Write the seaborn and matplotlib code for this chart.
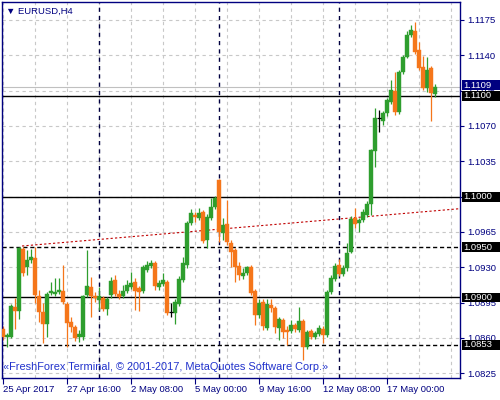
import numpy as np
import pandas as pd
import matplotlib
matplotlib.use("Agg")
import matplotlib.pyplot as plt
import matplotlib.transforms as mtransforms
from matplotlib.patches import Rectangle
import seaborn as sns

# EURUSD H4 candles, 25 Apr 2017 00:00 -> 19 May 2017 00:00
opens = [1.0869, 1.0861, 1.0861, 1.0891, 1.0887, 1.0948, 1.0930, 1.0937, 1.0939, 1.0901,
         1.0886, 1.0874, 1.0904, 1.0903, 1.0905, 1.0906, 1.0894, 1.0876, 1.0871, 1.0861,
         1.0861, 1.0902, 1.0910, 1.0901, 1.0897, 1.0899, 1.0889, 1.0902, 1.0917, 1.0903,
         1.0901, 1.0906, 1.0910, 1.0915, 1.0909, 1.0906, 1.0927, 1.0931, 1.0934, 1.0910,
         1.0913, 1.0915, 1.0886, 1.0885, 1.0894, 1.0917, 1.0932, 1.0974, 1.0982, 1.0979,
         1.0985, 1.0957, 1.0979, 1.0990, 1.1016, 1.0964, 1.0973, 1.0954, 1.0947, 1.0931,
         1.0921, 1.0924, 1.0930, 1.0906, 1.0883, 1.0896, 1.0870, 1.0893, 1.0890, 1.0870,
         1.0878, 1.0868, 1.0867, 1.0873, 1.0868, 1.0877, 1.0851, 1.0867, 1.0861, 1.0864,
         1.0869, 1.0863, 1.0905, 1.0918, 1.0932, 1.0923, 1.0929, 1.0945, 1.0979, 1.0974,
         1.0977, 1.0982, 1.0993, 1.1045, 1.1078, 1.1075, 1.1083, 1.1094, 1.1105, 1.1084,
         1.1123, 1.1138, 1.1160, 1.1164, 1.1145, 1.1128, 1.1108, 1.1127, 1.1102]
highs = [1.0872, 1.0865, 1.0894, 1.0899, 1.0950, 1.0950, 1.0947, 1.0948, 1.0950, 1.0907,
         1.0895, 1.0905, 1.0915, 1.0919, 1.0919, 1.0932, 1.0896, 1.0881, 1.0873, 1.0868,
         1.0902, 1.0947, 1.0920, 1.0905, 1.0910, 1.0901, 1.0900, 1.0920, 1.0922, 1.0907,
         1.0912, 1.0917, 1.0925, 1.0919, 1.0911, 1.0932, 1.0936, 1.0937, 1.0936, 1.0917,
         1.0924, 1.0917, 1.0895, 1.0898, 1.0921, 1.0940, 1.0976, 1.0988, 1.0985, 1.0989,
         1.0987, 1.0983, 1.0999, 1.1001, 1.1017, 1.0979, 1.0997, 1.0957, 1.0949, 1.0935,
         1.0929, 1.0931, 1.0932, 1.0908, 1.0898, 1.0898, 1.0898, 1.0898, 1.0892, 1.0881,
         1.0880, 1.0872, 1.0878, 1.0875, 1.0891, 1.0879, 1.0868, 1.0869, 1.0867, 1.0873,
         1.0872, 1.0907, 1.0922, 1.0934, 1.0938, 1.0932, 1.0954, 1.0981, 1.0989, 1.0979,
         1.0988, 1.0996, 1.1047, 1.1088, 1.1086, 1.1085, 1.1098, 1.1116, 1.1123, 1.1125,
         1.1140, 1.1164, 1.1170, 1.1173, 1.1153, 1.1139, 1.1138, 1.1129, 1.1112]
lows = [1.0858, 1.0851, 1.0860, 1.0869, 1.0879, 1.0921, 1.0922, 1.0934, 1.0895, 1.0876,
        1.0855, 1.0861, 1.0902, 1.0901, 1.0903, 1.0894, 1.0851, 1.0866, 1.0857, 1.0856,
        1.0858, 1.0900, 1.0881, 1.0896, 1.0888, 1.0887, 1.0883, 1.0899, 1.0901, 1.0898,
        1.0899, 1.0904, 1.0908, 1.0888, 1.0887, 1.0904, 1.0925, 1.0929, 1.0907, 1.0907,
        1.0911, 1.0883, 1.0881, 1.0874, 1.0892, 1.0915, 1.0929, 1.0972, 1.0975, 1.0977,
        1.0954, 1.0949, 1.0977, 1.0988, 1.0955, 1.0957, 1.0952, 1.0930, 1.0915, 1.0917,
        1.0918, 1.0922, 1.0902, 1.0873, 1.0880, 1.0868, 1.0868, 1.0886, 1.0865, 1.0858,
        1.0860, 1.0853, 1.0865, 1.0866, 1.0866, 1.0838, 1.0849, 1.0859, 1.0859, 1.0862,
        1.0855, 1.0861, 1.0903, 1.0916, 1.0921, 1.0921, 1.0926, 1.0944, 1.0969, 1.0965,
        1.0975, 1.0980, 1.0982, 1.1029, 1.1064, 1.1071, 1.1080, 1.1092, 1.1081, 1.1082,
        1.1121, 1.1137, 1.1158, 1.1141, 1.1125, 1.1106, 1.1104, 1.1075, 1.1099]
closes = [1.0861, 1.0863, 1.0892, 1.0887, 1.0949, 1.0924, 1.0937, 1.0940, 1.0902, 1.0886,
          1.0874, 1.0903, 1.0906, 1.0905, 1.0907, 1.0896, 1.0875, 1.0871, 1.0860, 1.0864,
          1.0901, 1.0911, 1.0901, 1.0899, 1.0901, 1.0889, 1.0898, 1.0916, 1.0903, 1.0900,
          1.0906, 1.0912, 1.0914, 1.0906, 1.0905, 1.0930, 1.0932, 1.0934, 1.0911, 1.0914,
          1.0917, 1.0885, 1.0886, 1.0896, 1.0918, 1.0934, 1.0974, 1.0984, 1.0980, 1.0984,
          1.0956, 1.0980, 1.0990, 1.0999, 1.0965, 1.0972, 1.0955, 1.0945, 1.0930, 1.0922,
          1.0924, 1.0930, 1.0904, 1.0883, 1.0895, 1.0872, 1.0894, 1.0890, 1.0871, 1.0879,
          1.0866, 1.0866, 1.0873, 1.0869, 1.0877, 1.0851, 1.0866, 1.0861, 1.0865, 1.0870,
          1.0863, 1.0905, 1.0919, 1.0931, 1.0923, 1.0929, 1.0944, 1.0978, 1.0973, 1.0977,
          1.0985, 1.0993, 1.1046, 1.1078, 1.1078, 1.1083, 1.1096, 1.1106, 1.1084, 1.1123,
          1.1138, 1.1160, 1.1165, 1.1143, 1.1127, 1.1108, 1.1125, 1.1103, 1.1109]

tick_bars = [0, 16, 32, 48, 64, 80, 96]
tick_labels = ["25 Apr 2017", "27 Apr 16:00", "2 May 08:00", "5 May 00:00",
               "9 May 16:00", "12 May 08:00", "17 May 00:00"]
separator_bars = [24, 54, 84]          # Monday 00:00 week separators
grid_prices = [1.0825, 1.0860, 1.0895, 1.0930, 1.0965, 1.1000, 1.1035, 1.1070,
               1.1105, 1.1140, 1.1175]
solid_levels = [1.1100, 1.1000, 1.0900]
dashed_levels = [1.0950, 1.0853]
bid_price = 1.1109
trend_bars = [4.75, 114.25]
trend_prices = [1.0951, 1.0988]

GREEN = "#2e9e2e"
ORANGE = "#f5761a"
NAVY = "#000080"
LABEL_SIZE = 6.8

df = pd.DataFrame({"open": opens, "high": highs, "low": lows, "close": closes})
df["bar"] = np.arange(len(df))

sns.set_theme(style="white")
plt.rcParams["font.family"] = ["Liberation Sans", "DejaVu Sans"]

fig = plt.figure(figsize=(5, 4), dpi=100)
ax = fig.add_axes([2 / 500, 22 / 400, 458 / 500, 376 / 400])
ax.set_xlim(-0.25, 114.25)
ax.set_ylim(1.08202, 1.11928)

# grid
for p in grid_prices:
    ax.axhline(p, color="#c8c8c8", lw=0.8, ls=(0, (3, 3)), zorder=0)
for b in range(0, 115, 8):
    ax.axvline(b, color="#c8c8c8", lw=0.8, ls=(0, (3, 3)), zorder=0)

# levels and separators
for p in solid_levels:
    ax.axhline(p, color="black", lw=1.0, zorder=1)
for p in dashed_levels:
    ax.axhline(p, color="black", lw=1.0, ls=(0, (3, 2)), zorder=1)
ax.axhline(bid_price, color="#c0c0c0", lw=0.8, zorder=1)
for b in separator_bars:
    ax.axvline(b, color="#000040", lw=1.0, ls=(0, (3, 3)), zorder=1)
sns.lineplot(x=trend_bars, y=trend_prices, ax=ax, color="#c00000", lw=0.8,
             dashes=False, zorder=1).lines[-1].set_linestyle((0, (2, 2)))

# candles
up = df[df.close > df.open]
down = df[df.close < df.open]
doji = df[df.close == df.open]
for part, col in [(up, GREEN), (down, ORANGE)]:
    ax.vlines(part.bar, part.low, part.high, color=col, lw=0.9, zorder=2)
    ax.bar(part.bar, (part.close - part.open).abs(), bottom=part[["open", "close"]].min(axis=1),
           width=0.78, color=col, edgecolor=col, lw=0.3, zorder=3)
ax.vlines(doji.bar, doji.low, doji.high, color="black", lw=0.9, zorder=2)
ax.hlines(doji.close, doji.bar - 0.4, doji.bar + 0.4, color="black", lw=0.9, zorder=3)

# axes look
for s in ax.spines.values():
    s.set_color(NAVY)
    s.set_linewidth(1.0)
ax.yaxis.tick_right()
ax.set_yticks(grid_prices)
ax.set_yticklabels([f"{p:.4f}" for p in grid_prices])
ax.set_xticks(tick_bars)
ax.set_xticklabels(tick_labels, ha="left")
ax.tick_params(axis="y", right=True, direction="out", length=3, width=0.8, color=NAVY,
               labelcolor=NAVY, labelsize=LABEL_SIZE, pad=2)
ax.tick_params(axis="x", bottom=True, direction="out", length=4, width=0.8, color=NAVY,
               labelcolor=NAVY, labelsize=LABEL_SIZE, pad=1)
ax.grid(False)

# price boxes on the right, running to the picture edge
trans = mtransforms.blended_transform_factory(ax.transAxes, ax.transData)
box_h = 0.00098
boxes = [(p, p, "black") for p in solid_levels + dashed_levels] + [(bid_price, bid_price + 0.00015, NAVY)]
for p, ypos, bg in boxes:
    ax.add_patch(Rectangle((1.0044, ypos - box_h / 2), 0.09, box_h, transform=trans,
                           fc=bg, ec="none", clip_on=False, zorder=9))
    ax.text(1.008, ypos, f"{p:.4f}", transform=trans, ha="left", va="center", color="white",
            fontsize=LABEL_SIZE, clip_on=False, zorder=10)

ax.text(0.008, 0.976, "\u25bc EURUSD,H4", transform=ax.transAxes, ha="left", va="center",
        color=NAVY, fontsize=6.8, zorder=10)
ax.text(0.003, 0.03, "\u00abFreshForex Terminal, \u00a9 2001-2017, MetaQuotes Software Corp.\u00bb",
        transform=ax.transAxes, ha="left", va="center", color="#2233cc", fontsize=7.9,
        zorder=10)

fig.savefig("out.png", dpi=100, facecolor="white")
